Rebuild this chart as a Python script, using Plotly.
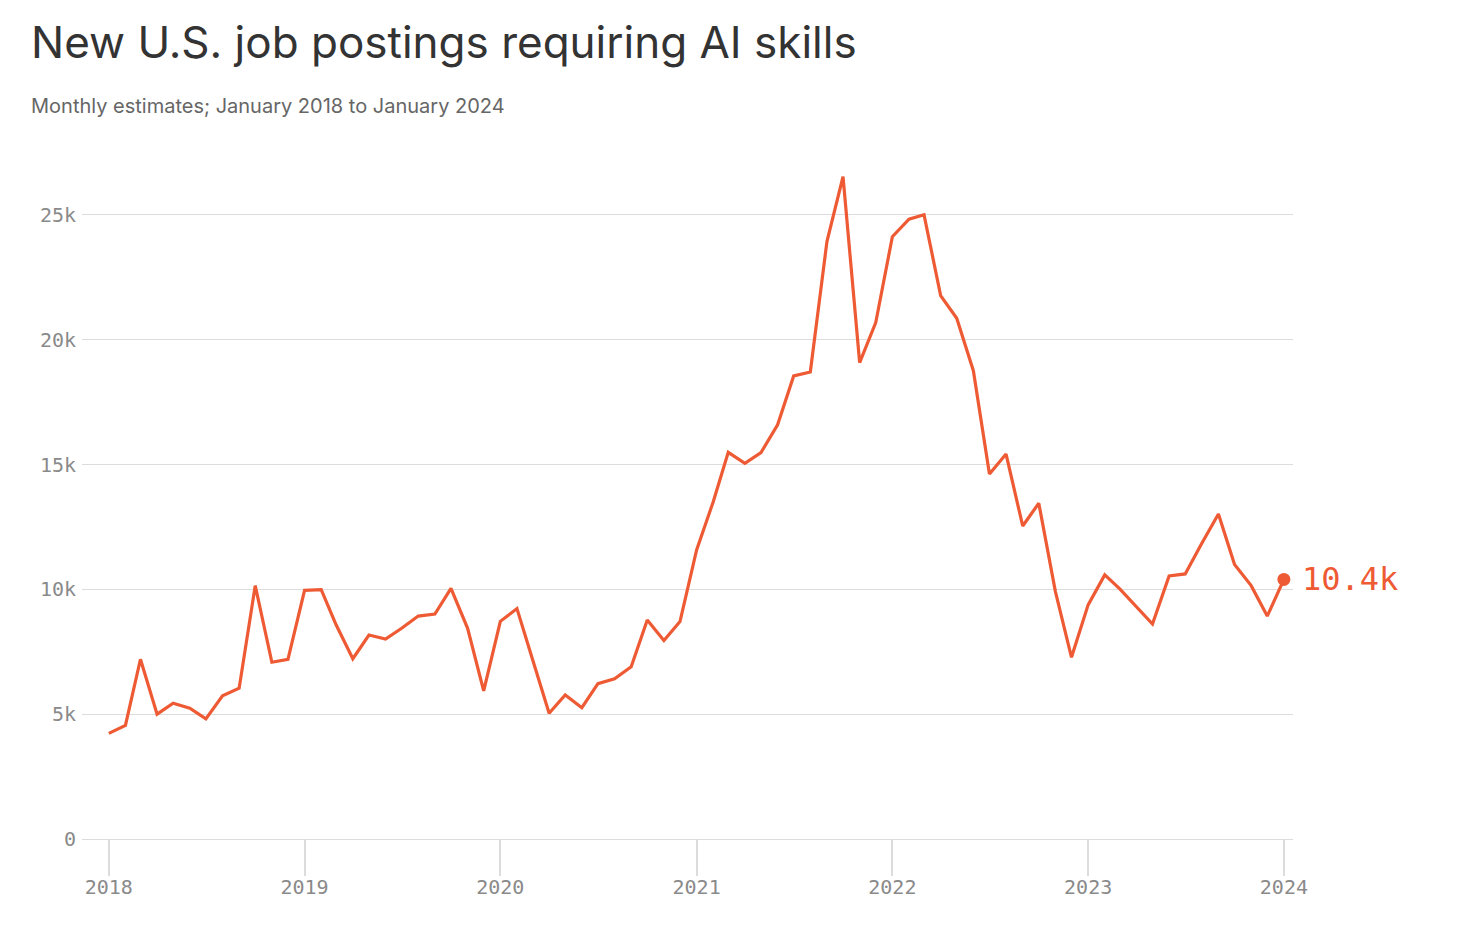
import pandas as pd
import plotly.graph_objects as go

# ---- data: monthly AI-skill job postings, Jan 2018 .. Jan 2024 (thousands) ----
MONTHS = pd.date_range("2018-01-01", "2024-01-01", freq="MS")
POSTINGS_K = [
    4.23, 4.55, 7.20, 5.00, 5.44, 5.24, 4.81, 5.74, 6.04, 10.15, 7.08, 7.20,   # 2018
    9.96, 9.99, 8.57, 7.22, 8.17, 8.01, 8.44, 8.93, 9.01, 10.04, 8.44, 5.93,   # 2019
    8.72, 9.23, 7.20, 5.04, 5.77, 5.26, 6.22, 6.42, 6.90, 8.77, 7.95, 8.71,    # 2020
    11.58, 13.51, 15.49, 15.05, 15.48, 16.59, 18.55, 18.71, 23.93, 26.53, 19.08, 20.69,  # 2021
    24.13, 24.83, 25.01, 21.77, 20.86, 18.76, 14.62, 15.42, 12.54, 13.45, 9.91, 7.28,    # 2022
    9.38, 10.58, 10.02, 9.31, 8.61, 10.54, 10.62, 11.85, 13.02, 11.00, 10.15, 8.93,      # 2023
    10.40,                                                                               # 2024
]
Y_TICKS = [0, 5000, 10000, 15000, 20000, 25000]

TITLE = "New U.S. job postings requiring AI skills"
SUBTITLE = "Monthly estimates; January 2018 to January 2024"

# ---- palette ----
LINE = "#EE5A33"
GRID = "#DCDCDC"
TICK = "#8A8A8A"
TEXT = "#333333"
SUB = "#666666"
MONO = "'DejaVu Sans Mono', 'Liberation Mono', monospace"
SANS = "Inter, 'Noto Sans', sans-serif"

# page body adds ~8px margin, so the figure is sized to fit inside the window
W, H = 1448, 920
PLOT_W = W - 74 - 163

values = [v * 1000 for v in POSTINGS_K]

fig = go.Figure()
fig.add_trace(go.Scatter(x=MONTHS, y=values, mode="lines",
                         line=dict(color=LINE, width=3.2), hoverinfo="skip"))
fig.add_trace(go.Scatter(x=[MONTHS[-1]], y=[values[-1]], mode="markers",
                         marker=dict(color=LINE, size=13), hoverinfo="skip"))

fig.add_annotation(x=MONTHS[-1], y=values[-1], text=f"{POSTINGS_K[-1]:.1f}k",
                   showarrow=False, xanchor="left", xshift=16,
                   font=dict(family=MONO, size=32, color=LINE))
fig.add_annotation(xref="paper", yref="paper", x=-53 / PLOT_W, y=(831 - 98) / 674,
                   xanchor="left", yanchor="middle", showarrow=False,
                   text=SUBTITLE, font=dict(family=SANS, size=20, color=SUB))

fig.update_layout(
    width=W, height=H,
    paper_bgcolor="white", plot_bgcolor="white",
    showlegend=False,
    margin=dict(l=74, r=163, t=157, b=89),
    title=dict(text=TITLE, x=23 / W, xref="container", xanchor="left",
               y=1 - 35 / H, yref="container", yanchor="middle",
               font=dict(family=SANS, size=44, color=TEXT)),
    xaxis=dict(
        range=[pd.Timestamp("2017-11-12"), pd.Timestamp("2024-01-18")],
        tickformat="%Y", dtick="M12", tick0="2018-01-01",
        showgrid=False, zeroline=False, showline=False,
        ticks="outside", ticklen=36, tickwidth=1.5, tickcolor=GRID,
        ticklabelstandoff=-6,
        tickfont=dict(family=MONO, size=20, color=TICK),
    ),
    yaxis=dict(
        range=[0, 27000], tickvals=Y_TICKS, tickformat="~s",
        showgrid=True, gridcolor=GRID, gridwidth=1.2,
        zeroline=True, zerolinecolor=GRID, zerolinewidth=1.2,
        showline=False, ticks="",
        ticklabelstandoff=5,
        tickfont=dict(family=MONO, size=20, color=TICK),
    ),
)

fig.write_html("out.html")
